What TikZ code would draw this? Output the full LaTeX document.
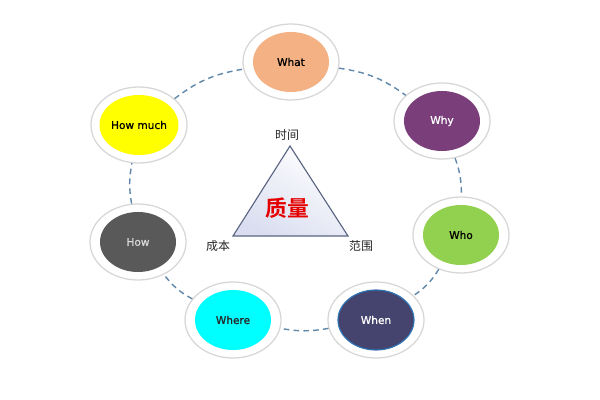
\documentclass[tikz,border=0pt]{standalone}
\usepackage{fontspec}
\setmainfont{DejaVu Sans}
\newfontfamily\lblfont[FakeBold=0.9]{DejaVu Sans}
\newfontfamily\cjk{Noto Sans CJK SC}
\newfontfamily\cjkb{Noto Sans CJK SC Bold}
\usetikzlibrary{shapes.geometric}
\definecolor{cwhat}{RGB}{244,177,131}
\definecolor{cwhy}{RGB}{122,62,122}
\definecolor{cwho}{RGB}{146,208,80}
\definecolor{cwhen}{RGB}{68,68,110}
\definecolor{cwhenb}{RGB}{46,117,182}
\definecolor{cwhere}{RGB}{0,255,255}
\definecolor{chow}{RGB}{89,89,89}
\definecolor{chowmuch}{RGB}{255,255,0}
\definecolor{cring}{RGB}{215,215,215}
\definecolor{cdash}{RGB}{96,135,172}
\definecolor{ctri}{RGB}{90,100,130}
\definecolor{ctrifill}{RGB}{218,222,240}
\tikzset{
  ring/.style={ellipse, draw=cring, line width=0.9pt, fill=white, minimum width=2.4cm, minimum height=1.9cm, inner sep=0pt},
  blob/.style={ellipse, minimum width=1.9cm, minimum height=1.5cm, inner sep=0pt, font=\lblfont\fontsize{7.5}{9}\selectfont},
  link/.style={draw=cdash, line width=1pt, dash pattern=on 4pt off 3pt},
  cjklabel/.style={font=\cjk\fontsize{8.5}{10}\selectfont, text=black!85, inner sep=0pt},
}
\begin{document}
\begin{tikzpicture}[x=0.025cm,y=-0.025cm]
\useasboundingbox (0,0) rectangle (600,400);
% rings
\node[ring] (whatR) at (291,62) {};
\node[ring] (whyR) at (442,121) {};
\node[ring] (whoR) at (461,235) {};
\node[ring] (whenR) at (376,320) {};
\node[ring] (whereR) at (233,320) {};
\node[ring] (howR) at (138,242) {};
\node[ring] (howmuchR) at (139,125) {};
% inner
\node[blob, fill=cwhat, text=black] (what) at (whatR) {What};
\node[blob, fill=cwhy, text=white] (why) at (whyR) {Why};
\node[blob, fill=cwho, text=black] (who) at (whoR) {Who};
\node[blob, fill=cwhen, draw=cwhenb, line width=0.8pt, text=white] (when) at (whenR) {When};
\node[blob, fill=cwhere, text=black!85] (where) at (whereR) {Where};
\node[blob, fill=chow, text=white!85!black] (how) at (howR) {How};
\node[blob, fill=chowmuch, text=black] (howmuch) at (howmuchR) {How much};
% links
\draw[link] (whatR) to[bend left=14] (whyR);
\draw[link] (whyR) to[bend left=10] (whoR);
\draw[link] (whoR) to[bend left=12] (whenR);
\draw[link] (whenR) to[bend left=10] (whereR);
\draw[link] (whereR) to[bend left=12] (howR);
\draw[link] (howR) to[bend left=10] (howmuchR);
\draw[link] (howmuchR) to[bend left=14] (whatR);
% triangle
\coordinate (tA) at (290,146);
\coordinate (tB) at (233,236);
\coordinate (tC) at (348,236);
\shade[top color=white, bottom color=ctrifill, shading angle=-30] (tA) -- (tB) -- (tC) -- cycle;
\draw[ctri, line width=0.8pt, line join=miter] (tA) -- (tB) -- (tC) -- cycle;
\node[cjklabel] (time) at (287,135) {时间};
\node[cjklabel] (cost) at (218,246) {成本};
\node[cjklabel] (scope) at (361,246) {范围};
\node[font=\cjkb\fontsize{15.5}{17}\selectfont, text=red!90!black, inner sep=0pt] (quality) at (287,208) {质量};
\end{tikzpicture}
\end{document}
